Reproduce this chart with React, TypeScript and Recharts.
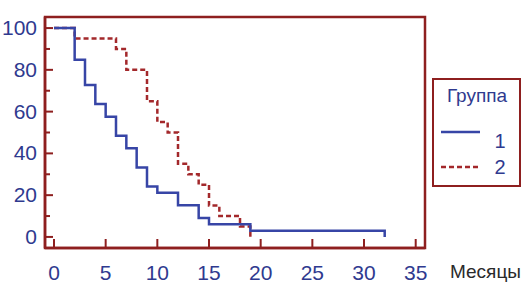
import { LineChart, Line, XAxis, YAxis, ReferenceArea } from "recharts";

// Kaplan–Meier steps (months / % surviving)
const group1Months = [0, 2, 3, 4, 5, 6, 7, 8, 9, 10, 12, 14, 15, 19, 32, 32];
const group1Values = [100, 84.8, 72.7, 63.6, 57.6, 48.5, 42.4, 33.3, 24.2, 21.2, 15.2, 9.1, 6.1, 3, 3, 0];
const group2Months = [0, 2, 6, 7, 9, 10, 11, 12, 13, 14, 15, 16, 18, 19];
const group2Values = [100, 95, 90, 80, 65, 55, 50, 35, 30, 25, 15, 10, 5, 0];

const xTicks = [0, 5, 10, 15, 20, 25, 30, 35];
const yTicks = [0, 10, 20, 30, 40, 50, 60, 70, 80, 90, 100];

const X_DOMAIN: [number, number] = [-0.87, 35.9];
const Y_DOMAIN: [number, number] = [-5.3, 105.3];

const FRAME = "#8e1f1f";
const NAVY = "#2f3a8f";
const BLUE = "#3745a6";
const RED = "#a3282b";
const FONT = "'Liberation Sans', Arial, sans-serif";

const g1 = group1Months.map((t, i) => ({ t, v: group1Values[i] }));
const g2 = group2Months.map((t, i) => ({ t, v: group2Values[i] }));

function YTick(props: any) {
  const { x, y, payload } = props;
  const major = payload.value % 20 === 0;
  return (
    <g>
      <line x1={x} x2={x + (major ? 8 : 5)} y1={y} y2={y} stroke={FRAME} strokeWidth={2} />
      {major && (
        <text x={x - 8} y={y} dy={7} textAnchor="end" fontSize={21} fill={NAVY} fontFamily={FONT}>
          {payload.value}
        </text>
      )}
    </g>
  );
}

function XTick(props: any) {
  const { x, y, payload } = props;
  return (
    <g>
      <line x1={x} x2={x} y1={y} y2={y - 9} stroke={FRAME} strokeWidth={2} />
      <text x={x} y={y} dy={32} textAnchor="middle" fontSize={21} fill={NAVY} fontFamily={FONT}>
        {payload.value}
      </text>
    </g>
  );
}

function Legend() {
  return (
    <div
      style={{
        position: "absolute",
        left: 432,
        top: 78,
        width: 89,
        height: 109,
        boxSizing: "border-box",
        border: `2.5px solid ${FRAME}`,
        background: "#fff",
      }}
    >
      <svg width={84} height={104} style={{ display: "block" }}>
        <text x={43} y={22} textAnchor="middle" fontSize={19} fill={NAVY} fontFamily={FONT}>
          Группа
        </text>
        <line x1={7} x2={46} y1={52} y2={52} stroke={BLUE} strokeWidth={2.5} />
        <text x={66} y={68} textAnchor="middle" fontSize={20} fill={NAVY} fontFamily={FONT}>
          1
        </text>
        <line x1={7} x2={46} y1={87} y2={87} stroke={RED} strokeWidth={2.5} strokeDasharray="5 3" />
        <text x={66} y={94} textAnchor="middle" fontSize={20} fill={NAVY} fontFamily={FONT}>
          2
        </text>
      </svg>
    </div>
  );
}

export default function App() {
  return (
    <div style={{ position: "absolute", left: 0, top: 0, width: 531, height: 295, background: "#fff" }}>
      <LineChart width={531} height={295} margin={{ top: 17, right: 106, bottom: 0, left: 0 }}>
        <XAxis
          dataKey="t"
          type="number"
          domain={X_DOMAIN}
          allowDataOverflow
          ticks={xTicks}
          tick={<XTick />}
          tickLine={false}
          tickSize={0}
          tickMargin={0}
          height={47}
          axisLine={{ stroke: FRAME, strokeWidth: 2.5 }}
          label={{
            content: (p: any) => (
              <text
                x={p.viewBox.x + p.viewBox.width + 25}
                y={p.viewBox.y + 30}
                fontSize={19}
                fill="#2a2a2a"
                fontFamily={FONT}
              >
                Месяцы
              </text>
            ),
          }}
        />
        <YAxis
          type="number"
          domain={Y_DOMAIN}
          allowDataOverflow
          ticks={yTicks}
          interval={0}
          tick={<YTick />}
          tickLine={false}
          tickSize={0}
          tickMargin={0}
          width={45}
          axisLine={{ stroke: FRAME, strokeWidth: 2.5 }}
        />
        <ReferenceArea
          x1={X_DOMAIN[0]}
          x2={X_DOMAIN[1]}
          y1={Y_DOMAIN[0]}
          y2={Y_DOMAIN[1]}
          fill="none"
          fillOpacity={0}
          stroke={FRAME}
          strokeWidth={2.5}
          strokeOpacity={1}
          ifOverflow="visible"
        />
        <Line
          data={g2}
          dataKey="v"
          type="stepAfter"
          stroke={RED}
          strokeWidth={2.5}
          strokeDasharray="5 3"
          dot={false}
          isAnimationActive={false}
        />
        <Line
          data={g1}
          dataKey="v"
          type="stepAfter"
          stroke={BLUE}
          strokeWidth={2.5}
          dot={false}
          isAnimationActive={false}
        />
      </LineChart>
      <Legend />
    </div>
  );
}
